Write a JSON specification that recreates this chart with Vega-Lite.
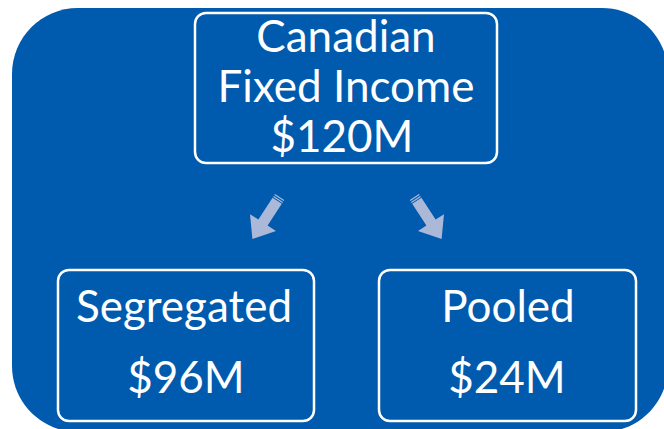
{
  "$schema": "https://vega.github.io/schema/vega-lite/v6.json",
  "width": 664,
  "height": 429,
  "autosize": {"type": "fit", "contains": "padding"},
  "padding": 0,
  "background": "white",
  "config": {"view": {"stroke": null}},
  "datasets": {
    "bg": [{"x": 12, "x2": 668, "y": 8, "y2": 432}],
    "boxes": [
      {"name": "Canadian Fixed Income", "x": 195, "x2": 497, "y": 13, "y2": 163},
      {"name": "Segregated", "x": 58, "x2": 314, "y": 270, "y2": 421},
      {"name": "Pooled", "x": 379, "x2": 636, "y": 270, "y2": 421}
    ],
    "arrowLeft": [{"x": 266, "y": 218}],
    "arrowRight": [{"x": 428, "y": 218}],
    "labels": [
      {"text": "Canadian", "x": 346, "y": 52},
      {"text": "Fixed Income", "x": 346, "y": 102},
      {"text": "$120M", "x": 342, "y": 152},
      {"text": "Segregated", "x": 184, "y": 322},
      {"text": "$96M", "x": 186, "y": 393},
      {"text": "Pooled", "x": 508, "y": 322},
      {"text": "$24M", "x": 507, "y": 393}
    ]
  },
  "layer": [
    {
      "data": {"name": "bg"},
      "mark": {"type": "rect", "fill": "#005AAD", "cornerRadius": 66, "clip": true},
      "encoding": {
        "x": {"field": "x", "type": "quantitative", "scale": {"domain": [0, 664], "zero": false, "nice": false}, "axis": null},
        "x2": {"field": "x2"},
        "y": {"field": "y", "type": "quantitative", "scale": {"domain": [0, 429], "zero": false, "nice": false, "reverse": true}, "axis": null},
        "y2": {"field": "y2"}
      }
    },
    {
      "data": {"name": "boxes"},
      "mark": {"type": "rect", "fill": null, "fillOpacity": 0, "stroke": "white", "strokeWidth": 2.5, "cornerRadius": 11},
      "encoding": {
        "x": {"field": "x", "type": "quantitative"},
        "x2": {"field": "x2"},
        "y": {"field": "y", "type": "quantitative"},
        "y2": {"field": "y2"}
      }
    },
    {
      "data": {"name": "arrowLeft"},
      "mark": {"type": "point", "filled": true, "fill": "#ABB8D8", "opacity": 1, "strokeWidth": 0, "size": 2500, "angle": 33,
        "shape": "M-0.22,-1 L0.22,-1 L0.22,-0.95 L-0.22,-0.95 Z M-0.22,-0.91 L0.22,-0.91 L0.22,-0.86 L-0.22,-0.86 Z M-0.22,-0.82 L0.22,-0.82 L0.22,0.22 L0.62,0.22 L0,1 L-0.62,0.22 L-0.22,0.22 Z"},
      "encoding": {
        "x": {"field": "x", "type": "quantitative"},
        "y": {"field": "y", "type": "quantitative"}
      }
    },
    {
      "data": {"name": "arrowRight"},
      "mark": {"type": "point", "filled": true, "fill": "#ABB8D8", "opacity": 1, "strokeWidth": 0, "size": 2500, "angle": -33,
        "shape": "M-0.22,-1 L0.22,-1 L0.22,-0.95 L-0.22,-0.95 Z M-0.22,-0.91 L0.22,-0.91 L0.22,-0.86 L-0.22,-0.86 Z M-0.22,-0.82 L0.22,-0.82 L0.22,0.22 L0.62,0.22 L0,1 L-0.62,0.22 L-0.22,0.22 Z"},
      "encoding": {
        "x": {"field": "x", "type": "quantitative"},
        "y": {"field": "y", "type": "quantitative"}
      }
    },
    {
      "data": {"name": "labels"},
      "mark": {"type": "text", "color": "white", "font": "Lato", "fontSize": 44, "align": "center", "baseline": "alphabetic"},
      "encoding": {
        "x": {"field": "x", "type": "quantitative"},
        "y": {"field": "y", "type": "quantitative"},
        "text": {"field": "text"}
      }
    }
  ]
}
